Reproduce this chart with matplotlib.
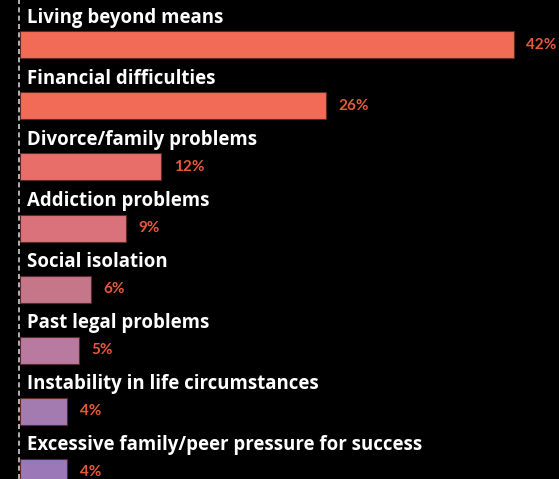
import matplotlib
matplotlib.use("Agg")
import matplotlib.pyplot as plt

causes = [
    "Living beyond means",
    "Financial difficulties",
    "Divorce/family problems",
    "Addiction problems",
    "Social isolation",
    "Past legal problems",
    "Instability in life circumstances",
    "Excessive family/peer pressure for success",
]
shares = [42, 26, 12, 9, 6, 5, 4, 4]
bar_colors = ["#f26b56", "#f26b56", "#e86e6a", "#d9727a",
              "#c67689", "#b87a9e", "#a47bb0", "#9b78b8"]

fig = plt.figure(figsize=(5.59, 4.79), dpi=100, facecolor="black")
ax = fig.add_axes([0, 0, 1, 1], facecolor="black")

px_per_pct = 11.76
row = 61.0
ax.set_xlim(-20 / px_per_pct, (559 - 20) / px_per_pct)
ax.set_ylim((479 - 45) / row, -45 / row)
ax.axis("off")

ypos = list(range(len(causes)))
ax.barh(ypos, shares, height=27 / row, color=bar_colors,
        edgecolor="#5a2a2a", linewidth=0.8, zorder=2)

for y, name, v in zip(ypos, causes, shares):
    ax.text(7 / px_per_pct, y - 0.45, name, color="white", fontsize=13.4,
            fontweight="bold", family="Open Sans", va="center", ha="left")
    ax.annotate(f"{v}%", xy=(v, y), xytext=(9, 0), textcoords="offset points",
                color="#e8583c", fontsize=11, fontweight="bold",
                family="Lato", va="center", ha="left")

# dashed baseline along the left edge
ax.axvline(-1 / px_per_pct, color="#cfcfcf", linewidth=1.2,
           linestyle=(0, (3, 2)), zorder=3)

fig.savefig("out.png", dpi=100, facecolor="black")
